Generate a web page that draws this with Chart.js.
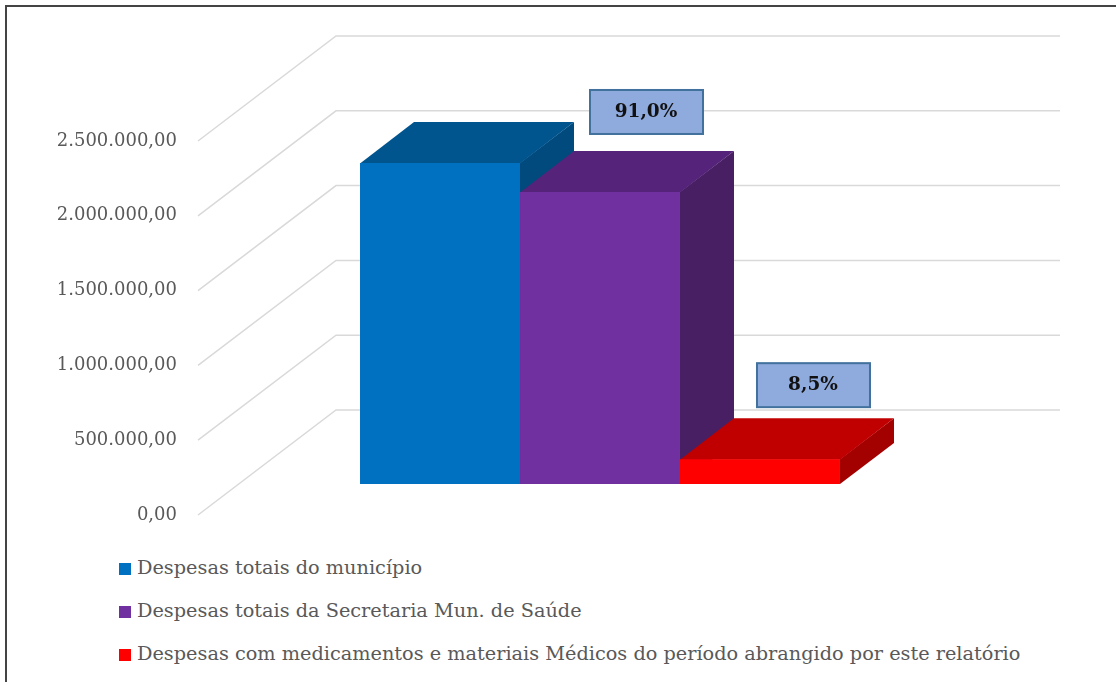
<!DOCTYPE html>
<html lang="pt-BR">
<head>
  <meta charset="UTF-8" />
  <title>Despesas do período</title>
  <script src="https://cdn.jsdelivr.net/npm/chart.js"></script>
  <style>
    body { margin: 0; background: #fff; overflow: hidden; }
    .moldura {
      position: absolute; left: 5px; top: 5px; width: 1300px; height: 900px;
      border-left: 2px solid #444; border-top: 2px solid #444;
    }
    #grafico { position: absolute; left: 0; top: 0; }
    .legenda {
      position: absolute; left: 119px; top: 546px;
      font-family: "DejaVu Serif", serif; font-size: 19.3px; color: #595959;
    }
    .legenda div { height: 43px; line-height: 43px; white-space: nowrap; }
    .legenda span {
      display: inline-block; width: 12px; height: 12px; margin-right: 6px; vertical-align: -1px;
    }
  </style>
</head>
<body>
  <div class="moldura"></div>
  <canvas id="grafico" width="1116" height="540"></canvas>
  <div class="legenda" id="legenda"></div>

  <script>
    // dados
    const categorias = ['Despesas'];
    const series = [
      'Despesas totais do município',
      'Despesas totais da Secretaria Mun. de Saúde',
      'Despesas com medicamentos e materiais Médicos do período abrangido por este relatório'
    ];
    const valores = [2145000, 1952000, 166000];
    const rotulos = ['', '91,0%', '8,5%'];
    const ticksY = ['0,00', '500.000,00', '1.000.000,00', '1.500.000,00', '2.000.000,00', '2.500.000,00'];

    const corFrente = ['#0070C0', '#7030A0', '#FF0000'];
    const corTopo = ['#00558F', '#55237A', '#C00000'];
    const corLado = ['#004A7D', '#471F62', '#A30000'];

    // profundidade das barras e da parede do fundo (em px)
    const fundoBarra = { dx: 54, dy: 41 };
    const parede = { x: 198, dx: 138, dy: 105, fim: 1060, desvio: 31 };
    const posRotulo = [null, [46, -80], [53, -74]];

    const efeito3d = {
      id: 'efeito3d',
      beforeDatasetsDraw(chart) {
        const ctx = chart.ctx;
        const y = chart.scales.y;
        ctx.save();
        ctx.strokeStyle = '#D9D9D9';
        ctx.lineWidth = 1.5;
        y.ticks.forEach(t => {
          const yf = y.getPixelForValue(t.value) + parede.desvio;
          ctx.beginPath();
          ctx.moveTo(parede.x, yf);
          ctx.lineTo(parede.x + parede.dx, yf - parede.dy);
          ctx.lineTo(parede.fim, yf - parede.dy);
          ctx.stroke();
        });
        // lados e topos, da esquerda para a direita
        chart.data.datasets.forEach((ds, i) => {
          const b = chart.getDatasetMeta(i).data[0].getProps(['x', 'y', 'base', 'width'], true);
          const esq = b.x - b.width / 2, dir = b.x + b.width / 2;
          ctx.fillStyle = corLado[i];
          ctx.beginPath();
          ctx.moveTo(dir, b.y);
          ctx.lineTo(dir + fundoBarra.dx, b.y - fundoBarra.dy);
          ctx.lineTo(dir + fundoBarra.dx, b.base - fundoBarra.dy);
          ctx.lineTo(dir, b.base);
          ctx.closePath();
          ctx.fill();
          ctx.fillStyle = corTopo[i];
          ctx.beginPath();
          ctx.moveTo(esq, b.y + 0.5);
          ctx.lineTo(esq + fundoBarra.dx, b.y - fundoBarra.dy);
          ctx.lineTo(dir + fundoBarra.dx, b.y - fundoBarra.dy);
          ctx.lineTo(dir, b.y + 0.5);
          ctx.closePath();
          ctx.fill();
        });
        ctx.restore();
      },
      afterDatasetsDraw(chart) {
        const ctx = chart.ctx;
        ctx.save();
        rotulos.forEach((txt, i) => {
          if (!txt) return;
          const b = chart.getDatasetMeta(i).data[0].getProps(['x', 'y'], true);
          const cx = b.x + posRotulo[i][0], cy = b.y + posRotulo[i][1];
          ctx.fillStyle = '#8FAADC';
          ctx.strokeStyle = '#41719C';
          ctx.lineWidth = 2;
          ctx.fillRect(cx - 56, cy - 22, 113, 44);
          ctx.strokeRect(cx - 56, cy - 22, 113, 44);
          ctx.fillStyle = '#111';
          ctx.font = 'bold 18.5px "DejaVu Serif"';
          ctx.textAlign = 'center';
          ctx.textBaseline = 'middle';
          ctx.fillText(txt, cx, cy);
        });
        ctx.restore();
      }
    };

    const grafico = new Chart(document.getElementById('grafico'), {
      type: 'bar',
      data: {
        labels: categorias,
        datasets: series.map((s, i) => ({
          label: s,
          data: [valores[i]],
          backgroundColor: corFrente[i],
          borderWidth: 0,
          categoryPercentage: 0.5714,
          barPercentage: 1
        }))
      },
      options: {
        responsive: false,
        animation: false,
        events: [],
        layout: { padding: { left: 0, right: 96, top: 110, bottom: 56 } },
        plugins: { legend: { display: false }, tooltip: { enabled: false } },
        scales: {
          x: { display: false },
          y: {
            min: 0,
            max: 2500000,
            afterFit: s => { s.width = 180; },
            grid: { display: false, drawTicks: false },
            border: { display: false },
            ticks: {
              stepSize: 500000,
              padding: 3,
              labelOffset: parede.desvio,
              color: '#595959',
              font: { family: 'DejaVu Serif', size: 18 },
              callback: (v, idx) => ticksY[idx]
            }
          }
        }
      },
      plugins: [efeito3d]
    });

    document.getElementById('legenda').innerHTML = series.map((s, i) =>
      `<div><span style="background:${corFrente[i]}"></span>${s}</div>`).join('');
  </script>
</body>
</html>
